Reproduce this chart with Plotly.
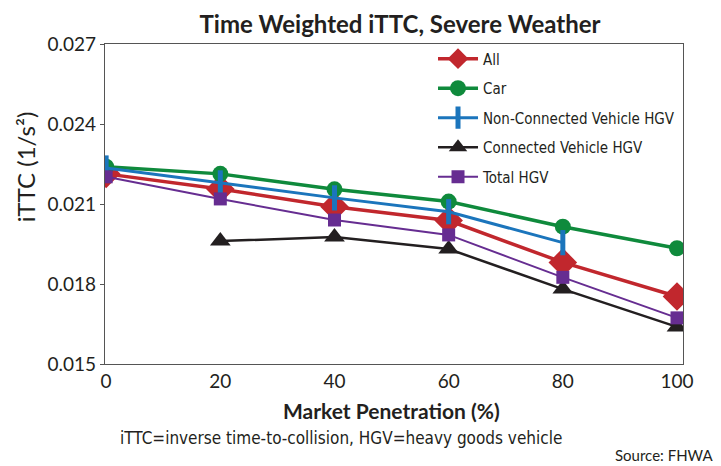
import plotly.graph_objects as go

penetration = [0, 20, 40, 60, 80, 100]
all_vals = [0.02213, 0.02156, 0.02090, 0.02038, 0.01881, 0.01753]
car_vals = [0.02240, 0.02213, 0.02155, 0.02109, 0.02015, 0.01934]
noncv_x = [0, 20, 40, 60, 80]
noncv_vals = [0.02235, 0.02179, 0.02123, 0.02071, 0.01955]
cv_x = [20, 40, 60, 80, 100]
cv_vals = [0.01961, 0.01976, 0.01931, 0.01781, 0.01639]
total_vals = [0.02202, 0.02119, 0.02040, 0.01984, 0.01825, 0.01673]

y_ticks = [0.015, 0.018, 0.021, 0.024, 0.027]
x_ticks = [0, 20, 40, 60, 80, 100]

RED = "#C1272D"
GREEN = "#0F8A3C"
BLUE = "#1B75BC"
BLACK = "#231F20"
PURPLE = "#662D91"
TEXT = "#231F20"

MAIN = "Lato"
NARROW = "DejaVu Sans Condensed, Roboto, sans-serif"

fig = go.Figure()
fig.add_trace(go.Scatter(x=penetration, y=all_vals, name="All", mode="lines+markers",
                         legendgroup="a",
                         line=dict(color=RED, width=3.5),
                         marker=dict(symbol="diamond", size=22, color=RED)))
fig.add_trace(go.Scatter(x=penetration, y=car_vals, name="Car", mode="lines+markers",
                         legendgroup="b",
                         line=dict(color=GREEN, width=3.5),
                         marker=dict(symbol="circle", size=16, color=GREEN)))
fig.add_trace(go.Scatter(x=noncv_x, y=noncv_vals, name="Non-Connected Vehicle HGV", mode="lines+markers",
                         legendgroup="c",
                         line=dict(color=BLUE, width=3),
                         marker=dict(symbol="line-ns", size=18, color=BLUE,
                                     line=dict(color=BLUE, width=5))))
fig.add_trace(go.Scatter(x=cv_x, y=cv_vals, name="Connected Vehicle HGV", mode="lines+markers",
                         legendgroup="d",
                         line=dict(color=BLACK, width=2.5),
                         marker=dict(symbol="triangle-up", size=18, color=BLACK)))
fig.add_trace(go.Scatter(x=penetration, y=total_vals, name="Total HGV", mode="lines+markers",
                         legendgroup="e",
                         line=dict(color=PURPLE, width=2),
                         marker=dict(symbol="square", size=13, color=PURPLE)))

fig.update_layout(
    width=721, height=466,
    margin=dict(l=97, r=46, t=36, b=110, autoexpand=False),
    paper_bgcolor="white", plot_bgcolor="white",
    title=dict(text="Time Weighted iTTC, Severe Weather", xref="container", x=0.5437,
               xanchor="center", yref="container", y=0.965, yanchor="middle",
               font=dict(family=MAIN, size=24, color=TEXT, weight="bold")),
    showlegend=True,
    legend=dict(x=0.5675, y=1.005, xanchor="left", yanchor="top",
                font=dict(family=NARROW, size=15, color=TEXT),
                bgcolor="rgba(0,0,0,0)", traceorder="grouped", tracegroupgap=7,
                itemwidth=40),
    xaxis=dict(range=[-0.2, 101.05], tickvals=x_ticks, ticktext=[str(v) for v in x_ticks],
               showgrid=False, zeroline=False, showline=True, linecolor="#555555", linewidth=1.2,
               mirror=True, ticks="", automargin=False,
               tickfont=dict(family=MAIN, size=19, color=TEXT)),
    yaxis=dict(range=[0.015, 0.027], tickvals=y_ticks, ticktext=["%.3f" % v for v in y_ticks],
               showgrid=False, zeroline=False, showline=True, linecolor="#555555", linewidth=1.2,
               mirror=True, ticks="outside", ticklen=4, tickcolor="#555555", automargin=False,
               tickfont=dict(family=MAIN, size=19, color=TEXT)),
)

fig.add_annotation(text="Market Penetration (%)", xref="paper", yref="paper",
                   x=0.4965, y=-0.14375, xanchor="center", yanchor="middle", showarrow=False,
                   font=dict(family=MAIN, size=21, color=TEXT, weight="bold"))
fig.add_annotation(text="iTTC (1/s²)", xref="paper", yref="paper", textangle=-90,
                   x=-0.1384, y=0.615, xanchor="center", yanchor="middle", showarrow=False,
                   font=dict(family=MAIN, size=24, color=TEXT))
fig.add_annotation(text="iTTC=inverse time-to-collision, HGV=heavy goods vehicle",
                   xref="paper", yref="paper", x=0.408, y=-0.231, xanchor="center", yanchor="middle",
                   showarrow=False, font=dict(family=NARROW, size=17, color=TEXT))
fig.add_annotation(text="Source: FHWA", xref="paper", yref="paper", x=1.0554, y=-0.284,
                   xanchor="right", yanchor="middle", showarrow=False,
                   font=dict(family=MAIN, size=15, color=TEXT))

fig.write_html("out.html")
